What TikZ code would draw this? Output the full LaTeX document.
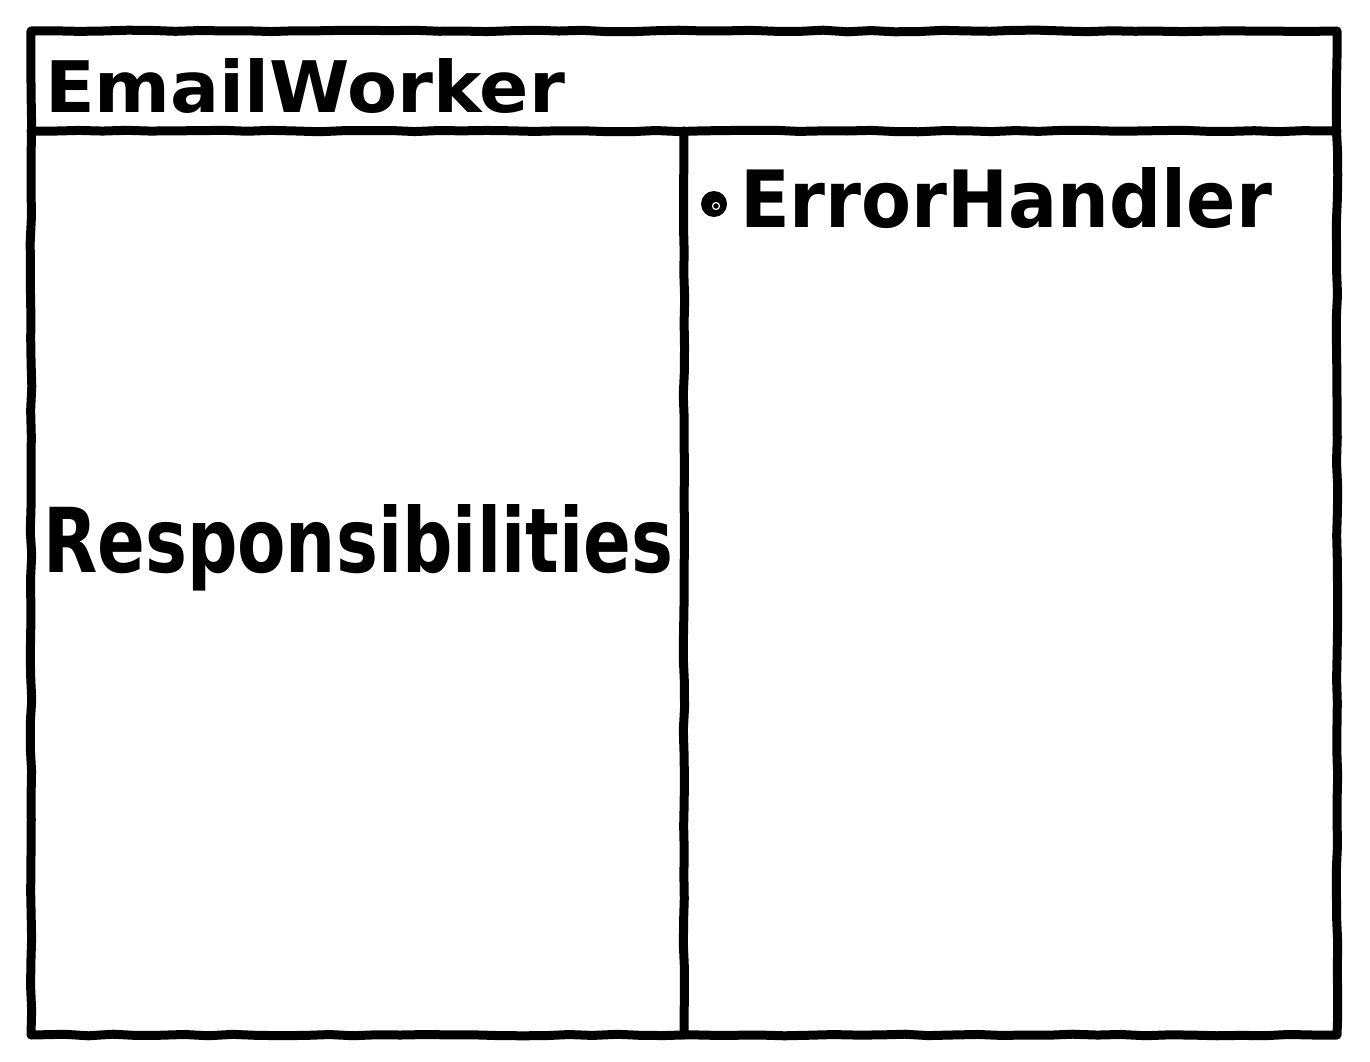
\documentclass[tikz,border=0pt]{standalone}
\usepackage{fontspec}
\setmainfont{DejaVu Sans}
\usetikzlibrary{decorations.pathmorphing}
\tikzset{
  x=1pt, y=-1pt,
  rough/.style={line width=9pt, line cap=round, line join=round,
    decorate, decoration={random steps, segment length=24pt, amplitude=0.8pt}},
  label/.style={inner sep=0pt, outer sep=0pt, anchor=base west, font=\bfseries\fontsize{60}{60}\selectfont}
}
\begin{document}
\begin{tikzpicture}
\useasboundingbox (0,0) rectangle (1370,1062);
\pgfmathsetseed{7}
\coordinate (tl) at (31,31);
\coordinate (tr) at (1337,31);
\coordinate (bl) at (31,1035);
\coordinate (br) at (1337,1035);
\coordinate (hl) at (31,131);
\coordinate (hr) at (1337,131);
\coordinate (dt) at (684,131);
\coordinate (db) at (684,1035);
\draw[rough] (tl) -- (tr) -- (br) -- (bl) -- cycle;
\draw[rough] (hl) -- (hr);
\draw[rough] (dt) -- (db);
\node[label] (name) at (45,113) {\resizebox{520pt}{54pt}{EmailWorker}};
\node[label] (resp) at (43,572) {\resizebox{630pt}{68pt}{Responsibilities}};
\node[label] (collab) at (740,227) {\resizebox{532pt}{60pt}{ErrorHandler}};
\fill (714,204) circle[radius=13pt];
\draw[white, line width=1.2pt] (716,206) circle[radius=3.5pt];
\end{tikzpicture}
\end{document}
